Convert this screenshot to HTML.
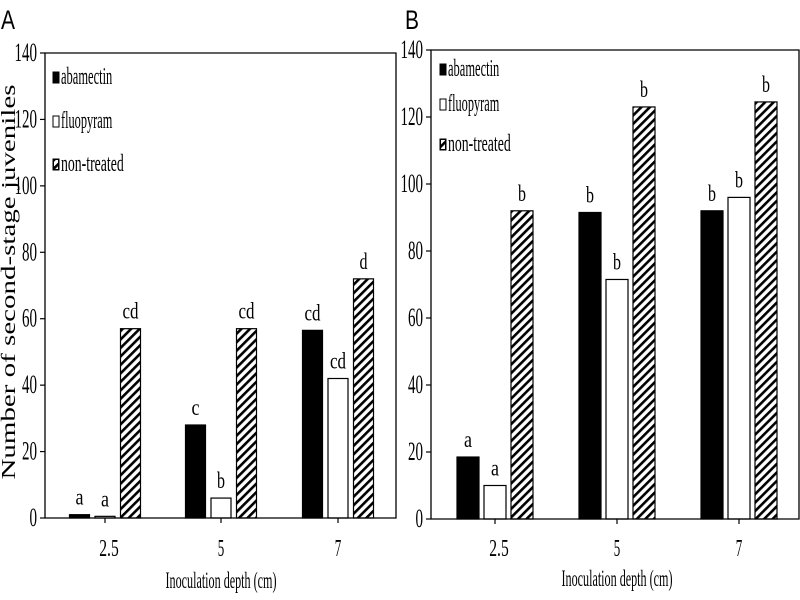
<!DOCTYPE html>
<html><head><meta charset="utf-8"><style>
html,body{margin:0;padding:0;background:#fff;}
svg{display:block;font-family:"Liberation Serif",serif;}
</style></head><body>
<svg id="chart" width="800" height="600" viewBox="0 0 800 600" xmlns="http://www.w3.org/2000/svg">
<defs>
<pattern id="hatch" patternUnits="userSpaceOnUse" width="6" height="6" patternTransform="rotate(45)">
<rect width="6" height="6" fill="#fff"/>
<rect x="0" y="0" width="2.6" height="6" fill="#000"/>
</pattern>
</defs>
<g id="root"></g>
</svg>
<script>
const categories = ["2.5", "5", "7"];
const series = ["abamectin", "fluopyram", "non-treated"];
const tickValues = [0, 20, 40, 60, 80, 100, 120, 140];
const aAbamectin = [1, 28, 56.5];
const aFluopyram = [0.5, 6, 42];
const aNonTreated = [57, 57, 72];
const aLetters = [["a","c","cd"],["a","b","cd"],["cd","cd","d"]];
const bAbamectin = [18.5, 91.5, 92];
const bFluopyram = [10, 71.5, 96];
const bNonTreated = [92, 123, 124.5];
const bLetters = [["a","b","b"],["a","b","b"],["b","b","b"]];

const NS = "http://www.w3.org/2000/svg";
const root = document.getElementById('root');
function mk(tag, attrs, parent) {
  const e = document.createElementNS(NS, tag);
  for (const k in attrs) e.setAttribute(k, attrs[k]);
  (parent || root).appendChild(e);
  return e;
}
const fills = ["#000", "#fff", "url(#hatch)"];

const panels = [
  {id:"a", letter:"A", lx:1, left:45, right:396, top:53, base:518, centers:[105,221,338], pitch:25.5, bw:20,
   data:[aAbamectin, aFluopyram, aNonTreated], letters:aLetters, legX:53, legY:[78,122,165], titleX:221, titleY:588, tickY:556},
  {id:"b", letter:"B", lx:405, left:431, right:799, top:50, base:519, centers:[495,617,739], pitch:27, bw:22,
   data:[bAbamectin, bFluopyram, bNonTreated], letters:bLetters, legX:440, legY:[70,105,145], titleX:617, titleY:586, tickY:556}
];

panels.forEach(p => {
  const g = mk('g', {});
  
  
  const y = v => p.base - v * (p.base - p.top) / 140;

  const pl = mk('text', {x:p.lx, y:29, 'font-family':'"Liberation Sans",sans-serif', 'font-size':27, textLength:14, lengthAdjust:'spacingAndGlyphs'}, g);
  pl.textContent = p.letter;
  
  

  p.data.forEach((vals, s) => {
    vals.forEach((v, c) => {
      const x = p.centers[c] + (s - 1) * p.pitch - p.bw / 2;
      const r = mk('rect', {x:x, y:y(v), width:p.bw, height:p.base - y(v), fill:fills[s], stroke:'#000', 'stroke-width':1.2}, g);
      
      
      const t = mk('text', {x:x + p.bw / 2, y:y(v) - 10, 'text-anchor':'middle', 'font-size':23, textLength:p.letters[s][c].length * 8, lengthAdjust:'spacingAndGlyphs'}, g);
      t.textContent = p.letters[s][c];
      
      
    });
  });

  const fr = mk('path', {d:`M${p.left},${p.top}H${p.right}V${p.base}H${p.left}Z`, fill:'none', stroke:'#000', 'stroke-width':1.3}, g);
  
  

  tickValues.forEach(v => {
    mk('line', {x1:p.left - 5, x2:p.left, y1:y(v), y2:y(v), stroke:'#000', 'stroke-width':1.2}, g);
    const s = String(v);
    const t = mk('text', {x:p.left - 8, y:y(v) + 8, 'text-anchor':'end', 'font-size':26, textLength:s.length * 7.5, lengthAdjust:'spacingAndGlyphs'}, g);
    t.textContent = s;
    
    
  });
  categories.forEach((c, i) => {
    mk('line', {x1:p.centers[i], x2:p.centers[i], y1:p.base, y2:p.base + 5, stroke:'#000', 'stroke-width':1.2}, g);
    const t = mk('text', {x:p.centers[i] + (i === 0 ? 4 : 0), y:p.tickY, 'text-anchor':'middle', 'font-size':24, textLength:c.length * 6.5, lengthAdjust:'spacingAndGlyphs'}, g);
    t.textContent = c;
    
    
  });
  const xt = mk('text', {x:p.titleX, y:p.titleY, 'text-anchor':'middle', 'font-size':23, textLength:111, lengthAdjust:'spacingAndGlyphs'}, g);
  xt.textContent = 'Inoculation depth (cm)';
  
  

  series.forEach((s, i) => {
    const ly = p.legY[i];
    const r = mk('rect', {x:p.legX, y:ly - 6, width:6, height:11, fill:i === 2 ? '#000' : fills[i], stroke:'#000', 'stroke-width':1}, g);
    if (i === 2) { mk('rect', {x:p.legX + 1, y:ly - 5, width:4, height:9, fill:'url(#hatch)'}, g); }
    
    
    const t = mk('text', {x:p.legX + 8, y:ly + 6, 'font-size':24, textLength:s.length * 5.7, lengthAdjust:'spacingAndGlyphs'}, g);
    t.textContent = s;
    
    
  });
});

const yt = mk('text', {x:0, y:0, transform:'translate(15,282) rotate(-90)', 'text-anchor':'middle', 'font-size':20, textLength:395, lengthAdjust:'spacingAndGlyphs'});
yt.textContent = 'Number of second-stage juveniles';


</script>
</body></html>
